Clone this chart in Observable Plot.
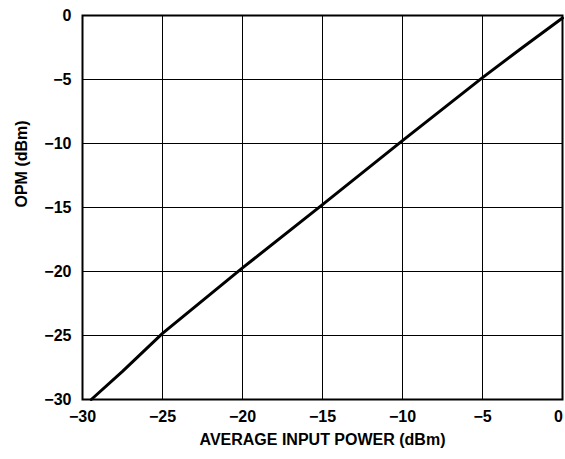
<!DOCTYPE html>
<html>
<head>
<meta charset="utf-8">
<script src="https://cdn.jsdelivr.net/npm/d3@7"></script>
<script src="https://cdn.jsdelivr.net/npm/@observablehq/plot@0.6"></script>
<style>
  html, body { margin: 0; padding: 0; background: #fff; }
  svg text { font-family: "Liberation Sans", Arial, sans-serif !important; font-weight: bold !important; }
</style>
</head>
<body>
<div id="chart"></div>
<script>
const inputPower = [-29.45, -27.5, -25, -20, -15, -10, -5, -2.5, 0];
const opm = [-30, -27.8, -24.83, -19.72, -14.78, -9.78, -4.85, -2.5, -0.2];
const xTicks = [-30, -25, -20, -15, -10, -5];
const xTickEnd = [0];
const yTicks = [-30, -25, -20, -15, -10, -5, 0];
const xLabel = "AVERAGE INPUT POWER (dBm)";
const yLabel = "OPM (dBm)";

const data = inputPower.map((x, i) => ({x, y: opm[i]}));

const chart = Plot.plot({
  width: 565,
  height: 459,
  marginLeft: 82,
  marginRight: 3,
  marginTop: 15,
  marginBottom: 60,
  style: {fontFamily: "'Liberation Sans', Arial, sans-serif", fontWeight: "bold", fontSize: "16px", background: "#fff", color: "#000"},
  x: {domain: [-30, 0]},
  y: {domain: [-30, 0]},
  marks: [
    Plot.gridX(xTicks.concat(xTickEnd), {stroke: "#000", strokeOpacity: 1, strokeWidth: 1}),
    Plot.gridY(yTicks, {stroke: "#000", strokeOpacity: 1, strokeWidth: 1}),
    Plot.axisX(xTicks, {tickSize: 0, tickPadding: 11, label: null, fontSize: 16, fill: "#000"}),
    Plot.axisX(xTickEnd, {tickSize: 0, tickPadding: 11, label: null, fontSize: 16, fill: "#000", dx: -4}),
    Plot.axisY(yTicks, {tickSize: 0, tickPadding: 11, label: null, fontSize: 16, fill: "#000"}),
    Plot.frame({stroke: "#000", strokeWidth: 2}),
    Plot.line(data, {x: "x", y: "y", stroke: "#000", strokeWidth: 3}),
    Plot.text([xLabel], {frameAnchor: "bottom", dy: 45, fontSize: 16, fill: "#000"}),
    Plot.text([yLabel], {frameAnchor: "left", dx: -61, rotate: -90, fontSize: 16, fill: "#000"})
  ]
});
document.getElementById("chart").appendChild(chart);
</script>
</body>
</html>
